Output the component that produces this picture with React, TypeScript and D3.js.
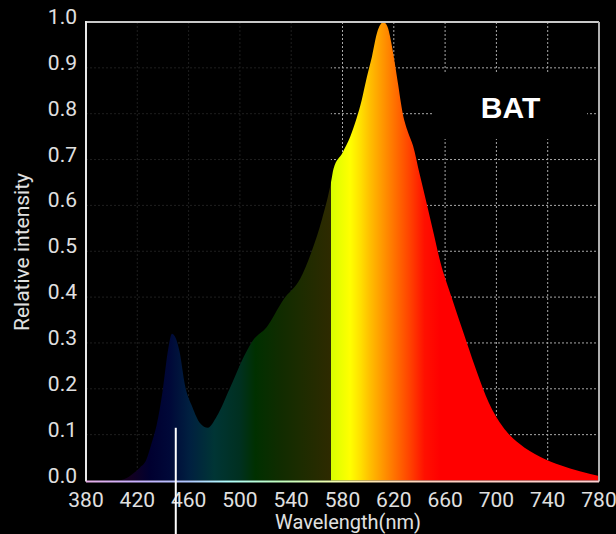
import * as d3 from "d3";
import React, { useRef, useEffect } from "react";

// spectrum (nm -> relative intensity)
const wavelengths = [380, 405, 410, 417, 422, 427, 431, 435, 440, 444, 447, 450, 453, 457, 463, 469, 475, 482, 492, 503, 510, 521, 534, 547, 556, 564, 571, 573, 580, 586, 591, 595, 599, 603, 607, 612, 615, 619, 623, 627, 631, 635, 640, 646, 651, 656, 665, 677, 685, 694, 705, 718, 734, 750, 765, 780];
const intensities = [0, 0, 0.003, 0.016, 0.028, 0.045, 0.08, 0.12, 0.2, 0.285, 0.32, 0.31, 0.28, 0.21, 0.16, 0.125, 0.115, 0.14, 0.2, 0.27, 0.305, 0.335, 0.395, 0.44, 0.5, 0.57, 0.65, 0.68, 0.715, 0.75, 0.79, 0.83, 0.88, 0.925, 0.977, 1.0, 0.99, 0.94, 0.87, 0.8, 0.76, 0.73, 0.67, 0.6, 0.54, 0.48, 0.4, 0.3, 0.235, 0.17, 0.117, 0.08, 0.052, 0.033, 0.02, 0.01];

const xTicks = [380, 420, 460, 500, 540, 580, 620, 660, 700, 740, 780];
const yTicks = [0, 0.1, 0.2, 0.3, 0.4, 0.5, 0.6, 0.7, 0.8, 0.9, 1.0];

// fill colours along the wavelength axis (left part is shown darkened)
const fillStops = [
  [380, "#100018"], [414, "#140020"], [430, "#000030"], [445, "#000838"],
  [461, "#002040"], [480, "#003535"], [500, "#003020"], [512, "#003000"],
  [531, "#102c00"], [547, "#1c2c00"], [570.9, "#2e2a00"], [571, "#d8ff00"],
  [586, "#ffff00"], [594, "#ffe000"], [601, "#ffc000"], [609, "#ffa000"],
  [621, "#ff7000"], [633, "#ff4000"], [644, "#ff1000"], [656, "#ff0000"], [780, "#ff0000"],
];
const axisStops = [
  [380, "#e8b0e8"], [420, "#c8b0ff"], [460, "#b0c8ff"], [490, "#b0ffff"],
  [530, "#c0ffc0"], [570, "#f0ffb0"], [600, "#ffe8b0"], [650, "#ffd0c0"], [780, "#ffd0d0"],
];
const darkenedUntil = 571;
const cursorNm = 450;
const cursorValue = 0.115;
const label = "BAT";

const W = 616;
const H = 534;

export default function App() {
  const svgRef = useRef(null);

  useEffect(() => {
    const svg = d3.select(svgRef.current);
    svg.selectAll("*").remove();

    const x = d3.scaleLinear().domain([380, 780]).range([86, 599]);
    const y = d3.scaleLinear().domain([0, 1]).range([480.5, 22]);
    const font = "Roboto, 'Noto Sans', sans-serif";

    const defs = svg.append("defs");
    const grad = defs.append("linearGradient")
      .attr("id", "spec")
      .attr("gradientUnits", "userSpaceOnUse")
      .attr("x1", x(380)).attr("x2", x(780)).attr("y1", 0).attr("y2", 0);
    fillStops.forEach(([nm, c]) => {
      grad.append("stop").attr("offset", (nm - 380) / 400).attr("stop-color", c);
    });
    const agrad = defs.append("linearGradient")
      .attr("id", "axisSpec")
      .attr("gradientUnits", "userSpaceOnUse")
      .attr("x1", x(380)).attr("x2", x(780)).attr("y1", 0).attr("y2", 0);
    axisStops.forEach(([nm, c]) => {
      agrad.append("stop").attr("offset", (nm - 380) / 400).attr("stop-color", c);
    });

    svg.append("rect").attr("width", W).attr("height", H).attr("fill", "#000");

    // dotted grid
    const grid = svg.append("g").attr("stroke", "#a8a8a8").attr("stroke-width", 1).attr("stroke-dasharray", "2,2");
    grid.selectAll("line.h")
      .data(yTicks.slice(1, -1))
      .enter().append("line")
      .attr("x1", x(380)).attr("x2", x(780))
      .attr("y1", (d) => y(d)).attr("y2", (d) => y(d));
    grid.selectAll("line.v")
      .data(xTicks.slice(1, -1))
      .enter().append("line")
      .attr("x1", (d) => x(d)).attr("x2", (d) => x(d))
      .attr("y1", y(1)).attr("y2", y(0));

    // darkened left part
    svg.append("rect")
      .attr("x", x(380) + 1).attr("y", y(1) + 1)
      .attr("width", x(darkenedUntil) - x(380) - 1)
      .attr("height", y(0) - y(1) - 1)
      .attr("fill", "#000").attr("opacity", 0.82);

    const data = wavelengths.map((w, i) => ({ w, v: intensities[i] }));
    const area = d3.area()
      .x((d) => x(d.w))
      .y0(y(0))
      .y1((d) => y(d.v))
      .curve(d3.curveMonotoneX);
    svg.append("path").datum(data).attr("d", area).attr("fill", "url(#spec)");

    // frame
    svg.append("line").attr("x1", x(380)).attr("x2", x(780)).attr("y1", y(1)).attr("y2", y(1))
      .attr("stroke", "#c8c8c8").attr("stroke-width", 2);
    svg.append("line").attr("x1", x(780)).attr("x2", x(780)).attr("y1", y(1)).attr("y2", y(0) + 1)
      .attr("stroke", "#b0b0b0").attr("stroke-width", 2);
    svg.append("line").attr("x1", x(380)).attr("x2", x(380)).attr("y1", y(1) - 1).attr("y2", y(0) + 1)
      .attr("stroke", "#e8e8e8").attr("stroke-width", 2);
    svg.append("rect").attr("x", x(380)).attr("y", y(0)).attr("width", x(780) - x(380)).attr("height", 2)
      .attr("fill", "url(#axisSpec)");

    // tick labels
    svg.selectAll("text.ytick")
      .data(yTicks)
      .enter().append("text")
      .attr("x", 77).attr("y", (d) => y(d) + 2)
      .attr("text-anchor", "end")
      .attr("font-family", font).attr("font-size", 21).attr("fill", "#e0e0e0")
      .text((d) => d3.format(".1f")(d));
    svg.selectAll("text.xtick")
      .data(xTicks)
      .enter().append("text")
      .attr("x", (d) => x(d)).attr("y", 507)
      .attr("text-anchor", "middle")
      .attr("font-family", font).attr("font-size", 21).attr("fill", "#e0e0e0")
      .text((d) => d);

    // axis titles
    svg.append("text")
      .attr("x", 348).attr("y", 529)
      .attr("text-anchor", "middle")
      .attr("font-family", font).attr("font-size", 20).attr("fill", "#e0e0e0")
      .text("Wavelength(nm)");
    svg.append("text")
      .attr("transform", "translate(29,252) rotate(-90)")
      .attr("text-anchor", "middle")
      .attr("font-family", font).attr("font-size", 21).attr("fill", "#e0e0e0")
      .text("Relative intensity");

    // label box
    svg.append("rect").attr("x", 432).attr("y", 72).attr("width", 155).attr("height", 67).attr("fill", "#000");
    svg.append("text")
      .attr("x", 510.5).attr("y", 118)
      .attr("text-anchor", "middle")
      .attr("font-family", "'Liberation Sans', Arial, sans-serif")
      .attr("font-weight", "bold").attr("font-size", 30).attr("fill", "#fff")
      .text(label);

    // cursor
    svg.append("line")
      .attr("x1", x(cursorNm)).attr("x2", x(cursorNm))
      .attr("y1", y(cursorValue)).attr("y2", H)
      .attr("stroke", "#fff").attr("stroke-width", 2);
  }, []);

  return (
    <svg
      ref={svgRef}
      width={W}
      height={H}
      style={{ position: "fixed", left: 0, top: 0, display: "block" }}
    />
  );
}
